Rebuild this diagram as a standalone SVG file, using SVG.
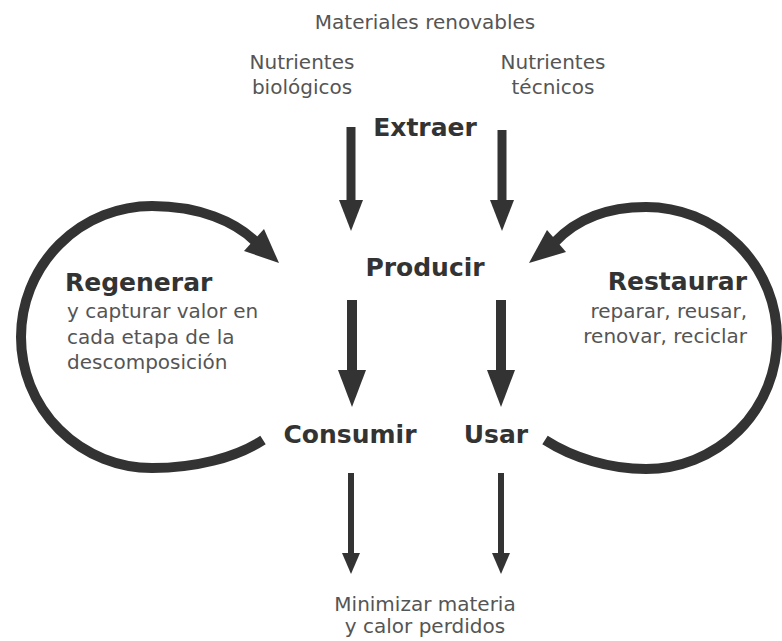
<svg xmlns="http://www.w3.org/2000/svg" width="782" height="641" viewBox="0 0 782 641">
<style>
.lt{font-family:"DejaVu Sans","Liberation Sans",sans-serif;font-size:20px;fill:#555555}
.bd{font-family:"DejaVu Sans","Liberation Sans",sans-serif;font-size:25px;font-weight:bold;fill:#333333}
.c{text-anchor:middle}
.e{text-anchor:end}
.ln{stroke:#333333;fill:none;stroke-linecap:butt}
.hd{fill:#333333}
</style>
<rect width="782" height="641" fill="#ffffff"/>
<g id="connectors">
  <g id="extraer-left"><line class="ln" x1="351" y1="127" x2="351" y2="202" stroke-width="9"/><polygon class="hd" points="339,200 363,200 351,231"/></g>
  <g id="extraer-right"><line class="ln" x1="502" y1="130" x2="502" y2="202" stroke-width="9"/><polygon class="hd" points="490,200 514,200 502,231"/></g>
  <g id="producir-left"><line class="ln" x1="352" y1="300" x2="352" y2="372" stroke-width="10"/><polygon class="hd" points="338,370 366,370 352,407"/></g>
  <g id="producir-right"><line class="ln" x1="501" y1="300" x2="501" y2="372" stroke-width="10"/><polygon class="hd" points="487,370 515,370 501,407"/></g>
  <g id="consumir-down"><line class="ln" x1="351" y1="473" x2="351" y2="555" stroke-width="6"/><polygon class="hd" points="342,553 360,553 351,574"/></g>
  <g id="usar-down"><line class="ln" x1="501" y1="473" x2="501" y2="555" stroke-width="6"/><polygon class="hd" points="492,553 510,553 501,574"/></g>
  <g id="loop-left"><path class="ln" stroke-width="10" d="M263,440 C235,458 195,468 152,468 A131,131 0 0 1 21,337 A131,131 0 0 1 152,206 C200,206 235,222 255,241"/><polygon class="hd" points="279,263 264,229 244,251"/></g>
  <g id="loop-right"><path class="ln" stroke-width="10" d="M545,440 C573,458 610,469 646,469 A131,131 0 0 0 777,338 A131,131 0 0 0 646,207 C600,207 572,224 555,242"/><polygon class="hd" points="529,263 547,230 566,252"/></g>
</g>
<g id="materiales"><text class="lt c" x="425" y="29">Materiales renovables</text></g>
<g id="nutrientes-bio"><text class="lt c" x="302" y="69">Nutrientes</text><text class="lt c" x="302" y="94">biológicos</text></g>
<g id="nutrientes-tec"><text class="lt c" x="553" y="69">Nutrientes</text><text class="lt c" x="553" y="94">técnicos</text></g>
<g id="extraer"><text class="bd c" x="425" y="136">Extraer</text></g>
<g id="producir"><text class="bd c" x="425" y="276">Producir</text></g>
<g id="regenerar"><text class="bd" x="65" y="291">Regenerar</text><text class="lt" x="67" y="318">y capturar valor en</text><text class="lt" x="67" y="343.5">cada etapa de la</text><text class="lt" x="67" y="369">descomposición</text></g>
<g id="restaurar"><text class="bd e" x="747" y="290">Restaurar</text><text class="lt e" x="747" y="318">reparar, reusar,</text><text class="lt e" x="747" y="343">renovar, reciclar</text></g>
<g id="consumir"><text class="bd c" x="350" y="443">Consumir</text></g>
<g id="usar"><text class="bd c" x="496" y="443">Usar</text></g>
<g id="minimizar"><text class="lt c" x="425" y="611">Minimizar materia</text><text class="lt c" x="425" y="633">y calor perdidos</text></g>
</svg>
